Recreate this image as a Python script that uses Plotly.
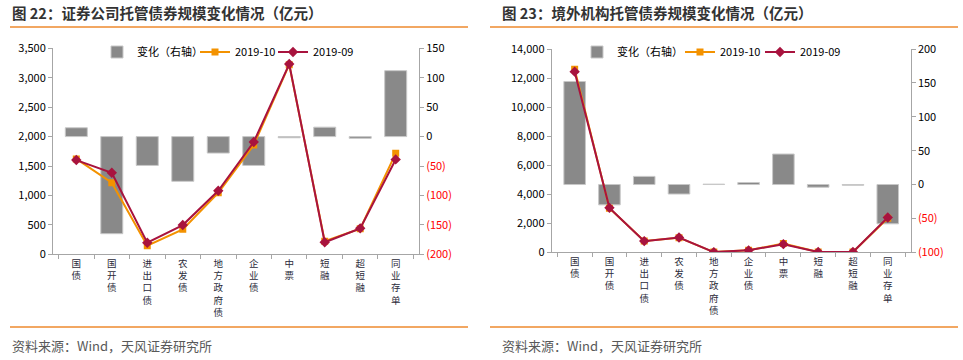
import plotly.graph_objects as go

# ---------------- data ----------------
categories = ["国债", "国开债", "进出口债", "农发债", "地方政府债", "企业债", "中票", "短融", "超短融", "同业存单"]

# Figure 22: securities companies (亿元)
sec_change = [15, -165, -49, -76, -28, -49, -2, 16, -3, 112]
sec_2019_10 = [1620, 1216, 146, 424, 1046, 1856, 3222, 221, 435, 1715]
sec_2019_09 = [1601, 1386, 197, 497, 1080, 1907, 3232, 204, 441, 1612]

# Figure 23: overseas institutions (亿元)
ovs_change = [152, -30, 12, -14, 0.6, 3, 45, -4, -1, -58]
ovs_2019_10 = [12600, 3030, 782, 1006, 15, 138, 605, 20, 19, 2342]
ovs_2019_09 = [12440, 3060, 770, 1020, 15, 135, 560, 24, 20, 2400]

sec_right_ticks = [-200, -150, -100, -50, 0, 50, 100, 150]
ovs_right_ticks = [-100, -50, 0, 50, 100, 150, 200]

series_names = ["变化（右轴）", "2019-10", "2019-09"]
title_left = "图 22：证券公司托管债券规模变化情况（亿元）"
title_right = "图 23：境外机构托管债券规模变化情况（亿元）"
source_text = "资料来源：Wind，天风证券研究所"

# ---------------- styles ----------------
W, H = 963, 360
FONT = "Noto Sans CJK SC, Liberation Sans, Arial, sans-serif"
BAR_C = "#898989"
ORANGE = "#F39200"
RED = "#A8133E"
AXIS_C = "#A6A6A6"
ACCENT = "#EE8A2E"


def px_x(p):
    return p / W


def px_y(p):
    return 1 - p / H


def right_text(v):
    if v < 0:
        return '<span style="color:#FF0000">(%d)</span>' % abs(v)
    return str(v)


vert_labels = ["<br>".join(list(c)) for c in categories]

fig = go.Figure()


def add_panel(xa, ya_bar, ya_line, chg, s10, s09, legs):
    fig.add_trace(go.Bar(x=vert_labels, y=chg, name=series_names[0], width=0.62,
                         marker=dict(color=BAR_C, line=dict(color="#C8C8C8", width=1)),
                         xaxis=xa, yaxis=ya_bar, legend=legs[0]))
    fig.add_trace(go.Scatter(x=vert_labels, y=s10, name=series_names[1], mode="lines+markers",
                             line=dict(color=ORANGE, width=2),
                             marker=dict(symbol="square", size=7, color=ORANGE),
                             xaxis=xa, yaxis=ya_line, legend=legs[1]))
    fig.add_trace(go.Scatter(x=vert_labels, y=s09, name=series_names[2], mode="lines+markers",
                             line=dict(color=RED, width=2),
                             marker=dict(symbol="diamond", size=8, color=RED),
                             xaxis=xa, yaxis=ya_line, legend=legs[2]))


add_panel("x", "y", "y2", sec_change, sec_2019_10, sec_2019_09, ["legend", "legend2", "legend3"])
add_panel("x2", "y3", "y4", ovs_change, ovs_2019_10, ovs_2019_09, ["legend4", "legend5", "legend6"])

tickfont = dict(family=FONT, size=11, color="#000000")
xfont = dict(family=FONT, size=9.5, color="#2B2B3A")

common_x = dict(type="category", showline=True, linecolor=AXIS_C, linewidth=1,
                ticks="outside", ticklen=4, tickcolor=AXIS_C, tickson="boundaries",
                showgrid=False, zeroline=False, tickfont=xfont, tickangle=0,
                automargin=False, fixedrange=True)
common_y = dict(showline=True, linecolor=AXIS_C, linewidth=1, ticks="outside", ticklen=4,
                tickcolor=AXIS_C, showgrid=False, zeroline=False, tickfont=tickfont,
                automargin=False, fixedrange=True)


def leg(text_x):
    return dict(orientation="h", x=px_x(text_x - 44), y=px_y(52), xanchor="left",
                yanchor="middle", font=dict(family=FONT, size=11, color="#000"),
                bgcolor="rgba(0,0,0,0)", itemwidth=30, tracegroupgap=0)


fig.update_layout(
    width=W, height=H,
    margin=dict(l=0, r=0, t=0, b=0, autoexpand=False),
    paper_bgcolor="white", plot_bgcolor="rgba(0,0,0,0)",
    font=dict(family=FONT, size=11, color="#000000"),
    barmode="overlay",
    xaxis=dict(domain=[px_x(53), px_x(419)], anchor="y", **common_x),
    yaxis=dict(domain=[px_y(254.3), px_y(48.3)], anchor="x", side="right",
               range=[-200, 150], tickvals=sec_right_ticks,
               ticktext=[right_text(v) for v in sec_right_ticks], **common_y),
    yaxis2=dict(overlaying="y", anchor="x", side="left", range=[0, 3500], dtick=500,
                tickformat=",", **common_y),
    xaxis2=dict(domain=[px_x(551.7), px_x(910.7)], anchor="y3", **common_x),
    yaxis3=dict(domain=[px_y(252.3), px_y(49)], anchor="x2", side="right",
                range=[-100, 200], tickvals=ovs_right_ticks,
                ticktext=[right_text(v) for v in ovs_right_ticks], **common_y),
    yaxis4=dict(overlaying="y3", anchor="x2", side="left", range=[0, 14000], dtick=2000,
                tickformat=",", **common_y),
    legend=leg(141), legend2=leg(239), legend3=leg(317),
    legend4=leg(621), legend5=leg(724), legend6=leg(804),
    showlegend=True,
)

# titles, sources and orange rules
for x0, x1, tx, title in [(10, 468, 10, title_left), (490, 958, 500, title_right)]:
    fig.add_annotation(text="<b>%s</b>" % title, x=px_x(tx), y=px_y(13), xref="paper", yref="paper",
                       xanchor="left", yanchor="middle", showarrow=False,
                       font=dict(family=FONT, size=14.5, color="#333333"))
    fig.add_annotation(text=source_text, x=px_x(tx), y=px_y(345), xref="paper", yref="paper",
                       xanchor="left", yanchor="middle", showarrow=False,
                       font=dict(family=FONT, size=13, color="#595959"))
    for yy in (27, 327):
        fig.add_shape(type="line", xref="paper", yref="paper", x0=px_x(x0), x1=px_x(x1),
                      y0=px_y(yy), y1=px_y(yy), line=dict(color=ACCENT, width=1.5))

fig.write_html("out.html", config={"displayModeBar": False},
               post_script="document.body.style.margin='0';document.body.style.overflow='hidden';")
